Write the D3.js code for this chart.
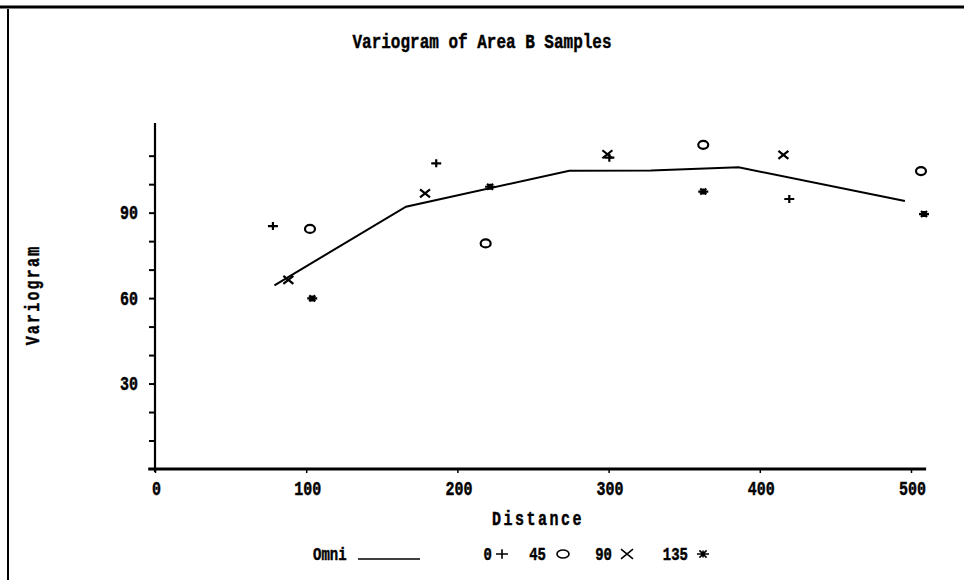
<!DOCTYPE html>
<html>
<head>
<meta charset="utf-8">
<script src="https://cdn.jsdelivr.net/npm/d3@7"></script>
<style>
  body { margin: 0; background: #fff; }
  svg text { font-family: "Liberation Mono", "DejaVu Sans Mono", monospace; font-weight: bold; fill: #000; stroke: #000; stroke-width: 0.35px; }
</style>
</head>
<body>
<svg width="964" height="580"></svg>
<script>
// **** data ****
const omniDist = [79, 166, 274, 328, 386, 496];
const omniGamma = [64.5, 92.1, 104.7, 104.8, 105.9, 94.1];

const dir0 = [[78, 85.3], [186, 107.3], [300.5, 109.3], [419.5, 94.8]];
const dir45 = [[102.5, 84.3], [218.7, 79.2], [362.6, 113.8], [506.6, 104.6]];
const dir90 = [[88.2, 66.4], [178.6, 96.8], [299.2, 110.5], [415.6, 110.3]];
const dir135 = [[104, 59.9], [221.6, 99.1], [362.6, 97.4], [508.6, 89.5]];

const xTicks = [0, 100, 200, 300, 400, 500];
const yTicks = [10, 20, 30, 40, 50, 60, 70, 80, 90, 100, 110];
const yLabels = [30, 60, 90];

const legendItems = [
    { label: '0', shape: 'plus' },
    { label: '45', shape: 'circle' },
    { label: '90', shape: 'cross' },
    { label: '135', shape: 'star' }
];

const svg = d3.select('svg');
const stretch = 'scale(1,1.32)'; // old screen font is tall and narrow

const xScale = d3.scaleLinear().domain([0, 500]).range([155, 911]);
const yScale = d3.scaleLinear().domain([0, 120]).range([469, 127.2]);

// tall text helper
function addText(x, y, str, size, anchor) {
    return svg.append('text')
        .attr('transform', `translate(${x},${y}) ${stretch}`)
        .attr('text-anchor', anchor || 'start')
        .attr('font-size', size)
        .text(str);
}

// page frame: top rule and left rule
svg.append('line').attr('x1', 0).attr('x2', 964).attr('y1', 7).attr('y2', 7)
    .attr('stroke', '#000').attr('stroke-width', 3);
svg.append('line').attr('x1', 8).attr('x2', 8).attr('y1', 9).attr('y2', 580)
    .attr('stroke', '#000').attr('stroke-width', 2);

// title
addText(482, 48, 'Variogram of Area B Samples', 16, 'middle');

// axes (ticks + labels from d3, lines drawn separately)
const yAxis = d3.axisLeft(yScale)
    .tickValues(yTicks)
    .tickSize(6)
    .tickFormat(d => yLabels.includes(d) ? d : '');
const yG = svg.append('g').attr('transform', `translate(${xScale(0)},0)`).call(yAxis);
yG.select('.domain').remove();
yG.selectAll('.tick line').attr('stroke', '#000').attr('stroke-width', 2);
yG.selectAll('.tick text')
    .attr('x', null).attr('y', null).attr('dy', null)
    .attr('transform', `translate(-17,6) ${stretch}`)
    .attr('font-size', 15).attr('font-family', null);

const xAxis = d3.axisBottom(xScale)
    .tickValues(xTicks)
    .tickSize(4)
    .tickFormat(d3.format('d'));
const xG = svg.append('g').attr('transform', `translate(0,${yScale(0)})`).call(xAxis);
xG.select('.domain').remove();
xG.selectAll('.tick line').attr('stroke', '#000').attr('stroke-width', 1.5);
xG.selectAll('.tick text')
    .attr('y', null).attr('dy', null)
    .attr('transform', `translate(1,26) ${stretch}`)
    .attr('font-size', 15).attr('font-family', null);

svg.append('line')
    .attr('x1', xScale(0)).attr('x2', xScale(0))
    .attr('y1', yScale(0) + 3).attr('y2', yScale(121.5))
    .attr('stroke', '#000').attr('stroke-width', 2.2);
svg.append('line')
    .attr('x1', xScale(-4.5)).attr('x2', xScale(510))
    .attr('y1', yScale(0)).attr('y2', yScale(0))
    .attr('stroke', '#000').attr('stroke-width', 3);

// axis titles
addText(xScale(250) + 5, 525, 'Distance', 15, 'middle')
    .attr('letter-spacing', 2.5);
svg.append('text')
    .attr('transform', `translate(39,295) rotate(-90) ${stretch}`)
    .attr('text-anchor', 'middle')
    .attr('font-size', 15)
    .attr('letter-spacing', 2.2)
    .text('Variogram');

// omni-directional variogram line
const omni = omniDist.map((d, i) => [d, omniGamma[i]]);
svg.append('path')
    .datum(omni)
    .attr('fill', 'none')
    .attr('stroke', '#000')
    .attr('stroke-width', 2)
    .attr('d', d3.line().x(d => xScale(d[0])).y(d => yScale(d[1])));

// marker shapes as path strings
function markerPath(shape, s) {
    if (shape === 'plus') return `M${-s},0H${s}M0,${-s * 0.8}V${s * 0.8}`;
    if (shape === 'cross') return `M${-s},${-s * 0.8}L${s},${s * 0.8}M${-s},${s * 0.8}L${s},${-s * 0.8}`;
    if (shape === 'star') return `M${-s},0H${s}M${-s * 0.6},${-s * 0.6}L${s * 0.6},${s * 0.6}M${-s * 0.6},${s * 0.6}L${s * 0.6},${-s * 0.6}M0,${-s * 0.6}V${s * 0.6}`;
    return null;
}

function drawMarks(data, shape) {
    const g = svg.append('g').attr('class', 'dir-' + shape);
    if (shape === 'circle') {
        g.selectAll('ellipse').data(data).enter().append('ellipse')
            .attr('cx', d => xScale(d[0])).attr('cy', d => yScale(d[1]))
            .attr('rx', 5).attr('ry', 4)
            .attr('fill', 'none').attr('stroke', '#000').attr('stroke-width', 2.2);
    } else {
        g.selectAll('path').data(data).enter().append('path')
            .attr('transform', d => `translate(${xScale(d[0])},${yScale(d[1])})`)
            .attr('d', markerPath(shape, 5))
            .attr('fill', 'none').attr('stroke', '#000').attr('stroke-width', 2.2);
    }
}
drawMarks(dir0, 'plus');
drawMarks(dir45, 'circle');
drawMarks(dir90, 'cross');
drawMarks(dir135, 'star');

// legend
const ly = 560;
addText(313, ly, 'Omni', 14);
svg.append('line').attr('x1', 358).attr('x2', 420).attr('y1', ly - 1).attr('y2', ly - 1)
    .attr('stroke', '#000').attr('stroke-width', 1.5);

const legendX = [492, 546, 612, 688];
legendItems.forEach((item, i) => {
    const x = legendX[i];
    addText(x, ly, item.label, 14, 'end');
    const cx = x + 12, cy = ly - 6;
    if (item.shape === 'circle') {
        svg.append('ellipse').attr('cx', cx + 5).attr('cy', cy).attr('rx', 6).attr('ry', 4)
            .attr('fill', 'none').attr('stroke', '#000').attr('stroke-width', 1.6);
    } else {
        svg.append('path').attr('transform', `translate(${item.shape === 'plus' ? cx - 2 : cx + 3},${cy})`)
            .attr('d', markerPath(item.shape, 6))
            .attr('fill', 'none').attr('stroke', '#000').attr('stroke-width', 1.6);
    }
});
</script>
</body>
</html>
